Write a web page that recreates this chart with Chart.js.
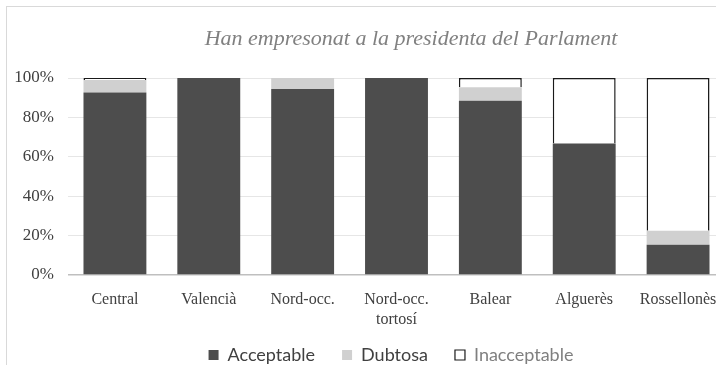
<!DOCTYPE html>
<html>
<head>
<meta charset="utf-8">
<script src="https://cdn.jsdelivr.net/npm/chart.js@4"></script>
<style>
  html, body { margin: 0; padding: 0; background: #fff; }
  body { width: 716px; height: 365px; overflow: hidden; position: relative; }
  #frame {
    position: absolute; left: 6px; top: 6px;
    border-left: 1px solid #d9d9d9; border-top: 1px solid #d9d9d9;
    width: 800px; height: 400px;
  }
  canvas { display: block; }
</style>
</head>
<body>
<div id="frame"><canvas id="c" width="764" height="381"></canvas></div>
<script>
// Dialect areas
const categories = ['Central', 'Valencià', 'Nord-occ.', ['Nord-occ.', 'tortosí'], 'Balear', 'Alguerès', 'Rossellonès'];
// Share of answers per area (%)
const acceptable   = [92.6, 100, 94.4, 100, 88.5, 66.7, 15.4];
const dubtosa      = [6.4,  0,   5.6,  0,   6.8,  0,    7.1];
const inacceptable = [1.0,  0,   0,    0,   4.7,  33.3, 77.5];
const yTicks = [0, 20, 40, 60, 80, 100];
const titleText = 'Han empresonat a la presidenta del Parlament';

// Italic title, placed over the plot area
const titlePlugin = {
  id: 'italicTitle',
  afterDraw(chart) {
    const { ctx, chartArea } = chart;
    ctx.save();
    ctx.font = 'italic 22px "Liberation Serif", serif';
    ctx.fillStyle = '#808080';
    ctx.textAlign = 'center';
    ctx.textBaseline = 'middle';
    ctx.fillText(titleText, chartArea.left + 343, chartArea.top - 39);
    ctx.restore();
  }
};

// Nudge the legend block: a bit to the right and tucked up under the axis labels
const legendOffset = {
  id: 'legendOffset',
  afterLayout(chart) {
    const lg = chart.legend;
    if (!lg) return;
    lg.left += 25; lg.right += 25;
    lg.top -= 14; lg.bottom -= 14;
  }
};

new Chart(document.getElementById('c'), {
  type: 'bar',
  data: {
    labels: categories,
    datasets: [
      { label: 'Acceptable', data: acceptable, backgroundColor: '#4d4d4d', borderWidth: 0 },
      { label: 'Dubtosa', data: dubtosa, backgroundColor: '#d0d0d0', borderWidth: 0 },
      { label: 'Inacceptable', data: inacceptable, backgroundColor: '#ffffff', borderColor: '#1a1a1a', borderWidth: 1.5 }
    ]
  },
  options: {
    responsive: false,
    animation: false,
    devicePixelRatio: 1,
    layout: { padding: { top: 71, right: 46, left: 0, bottom: 0 } },
    datasets: { bar: { categoryPercentage: 1, barPercentage: 0.67 } },
    plugins: {
      title: { display: false },
      tooltip: { enabled: false },
      legend: {
        position: 'bottom',
        labels: {
          boxWidth: 10, boxHeight: 10, padding: 27,
          font: { family: 'Lato, sans-serif', size: 18 },
          color: '#404040',
          generateLabels(chart) {
            const items = Chart.defaults.plugins.legend.labels.generateLabels(chart);
            items.forEach(it => {
              it.fontColor = it.text === 'Inacceptable' ? '#7f7f7f' : '#404040';
              if (it.text === 'Inacceptable') { it.strokeStyle = '#1a1a1a'; it.lineWidth = 1.2; }
              else { it.lineWidth = 0; }
            });
            return items;
          }
        }
      }
    },
    scales: {
      x: {
        stacked: true,
        grid: { display: false },
        border: { display: false },
        ticks: {
          color: '#404040', padding: 7, maxRotation: 0, autoSkip: false,
          font: { family: '"Liberation Serif", serif', size: 16, lineHeight: 1.25 }
        },
        afterFit(scale) { scale.height = 58; }
      },
      y: {
        stacked: true,
        min: 0, max: 100,
        afterBuildTicks(scale) { scale.ticks = yTicks.map(v => ({ value: v })); },
        grid: {
          drawTicks: false,
          color: ctx => (ctx.tick && ctx.tick.value === 0) ? '#bfbfbf' : '#e6e6e6',
          lineWidth: ctx => (ctx.tick && ctx.tick.value === 0) ? 1.5 : 1
        },
        border: { display: false },
        ticks: {
          color: '#404040', padding: 14,
          font: { family: '"Liberation Serif", serif', size: 17 },
          callback: v => v + '%'
        },
        afterFit(scale) { scale.width = 61; }
      }
    }
  },
  plugins: [titlePlugin, legendOffset]
});
</script>
</body>
</html>
